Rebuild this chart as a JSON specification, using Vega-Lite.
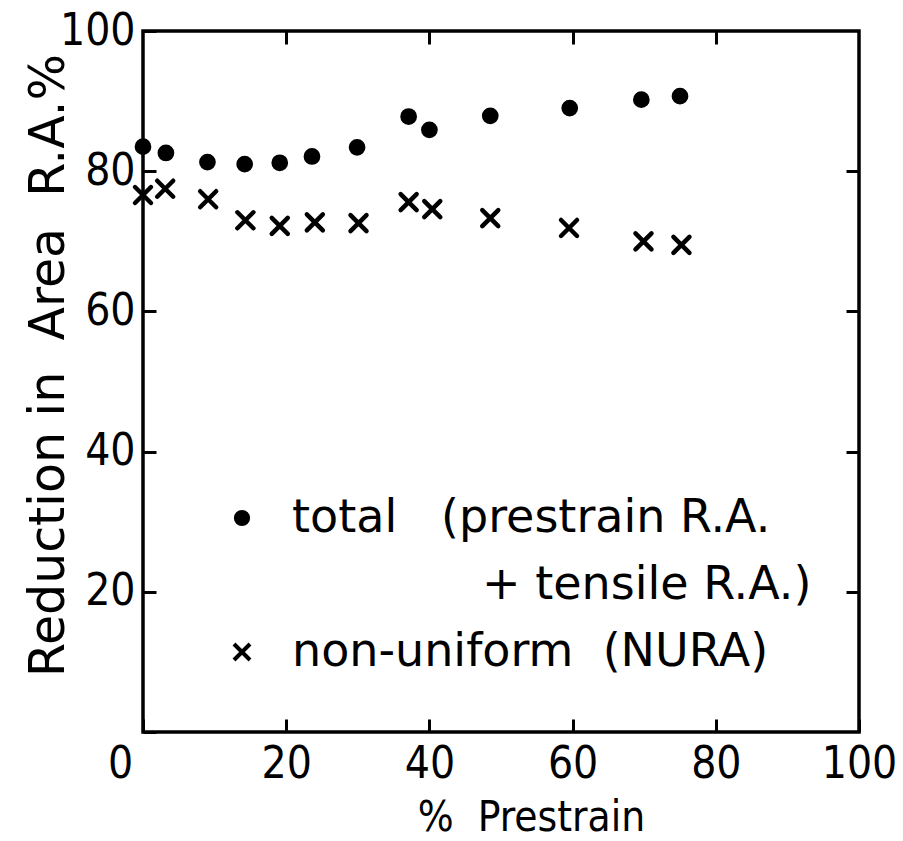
{
  "$schema": "https://vega.github.io/schema/vega-lite/v6.json",
  "autosize": {"type": "none"},
  "padding": {"left": 143, "top": 31, "right": 44, "bottom": 109},
  "width": 716,
  "height": 701,
  "background": "white",
  "config": {
    "view": {"stroke": "black", "strokeWidth": 3.5},
    "font": "DejaVu Sans Condensed, DejaVu Sans",
    "axis": {
      "grid": false,
      "domain": false,
      "tickColor": "black",
      "tickWidth": 3,
      "tickSize": -13,
      "labelColor": "black",
      "labelFont": "DejaVu Sans Condensed, DejaVu Sans",
      "labelFontSize": 44,
      "labelFlush": false,
      "labelOverlap": false,
      "titleColor": "black",
      "titleFont": "DejaVu Sans Condensed, DejaVu Sans",
      "titleFontSize": 46,
      "titleFontWeight": "normal"
    },
    "legend": {
      "labelFont": "DejaVu Sans",
      "labelFontSize": 46,
      "labelColor": "black",
      "labelLimit": 800
    }
  },
  "data": {
    "values": [
      {"prestrain": 0, "ra": 83.5, "series": "total"},
      {"prestrain": 3.2, "ra": 82.6, "series": "total"},
      {"prestrain": 9.0, "ra": 81.3, "series": "total"},
      {"prestrain": 14.2, "ra": 81.0, "series": "total"},
      {"prestrain": 19.1, "ra": 81.2, "series": "total"},
      {"prestrain": 23.6, "ra": 82.1, "series": "total"},
      {"prestrain": 29.9, "ra": 83.4, "series": "total"},
      {"prestrain": 37.1, "ra": 87.8, "series": "total"},
      {"prestrain": 40.0, "ra": 85.9, "series": "total"},
      {"prestrain": 48.5, "ra": 87.9, "series": "total"},
      {"prestrain": 59.6, "ra": 89.0, "series": "total"},
      {"prestrain": 69.6, "ra": 90.2, "series": "total"},
      {"prestrain": 75.0, "ra": 90.7, "series": "total"},
      {"prestrain": 0, "ra": 76.6, "series": "non-uniform"},
      {"prestrain": 3.1, "ra": 77.5, "series": "non-uniform"},
      {"prestrain": 9.1, "ra": 76.0, "series": "non-uniform"},
      {"prestrain": 14.3, "ra": 73.0, "series": "non-uniform"},
      {"prestrain": 19.1, "ra": 72.2, "series": "non-uniform"},
      {"prestrain": 24.0, "ra": 72.7, "series": "non-uniform"},
      {"prestrain": 30.1, "ra": 72.6, "series": "non-uniform"},
      {"prestrain": 37.1, "ra": 75.6, "series": "non-uniform"},
      {"prestrain": 40.4, "ra": 74.6, "series": "non-uniform"},
      {"prestrain": 48.5, "ra": 73.3, "series": "non-uniform"},
      {"prestrain": 59.5, "ra": 71.9, "series": "non-uniform"},
      {"prestrain": 69.9, "ra": 70.0, "series": "non-uniform"},
      {"prestrain": 75.2, "ra": 69.5, "series": "non-uniform"}
    ]
  },
  "layer": [
    {
      "mark": {"type": "point", "filled": true, "fill": "black", "stroke": "black", "strokeWidth": 4.5, "strokeCap": "round", "opacity": 1},
      "encoding": {
        "x": {
          "field": "prestrain", "type": "quantitative",
          "scale": {"domain": [0, 100], "nice": false, "zero": false},
          "axis": {
            "orient": "bottom",
            "values": [0, 20, 40, 60, 80, 100],
            "labelPadding": 23,
            "labelOffset": {"condition": {"test": "datum.value === 0", "value": -23}, "value": 0},
            "title": "%\u00a0\u00a0Prestrain",
            "titleFontSize": 42,
            "titleX": 388,
            "titleY": 98,
            "titleBaseline": "alphabetic",
            "titleAlign": "center"
          }
        },
        "y": {
          "field": "ra", "type": "quantitative",
          "scale": {"domain": [0, 100], "nice": false, "zero": false},
          "axis": {
            "orient": "left",
            "values": [0, 20, 40, 60, 80, 100],
            "labelPadding": 21,
            "labelExpr": "datum.value === 0 ? '' : datum.label",
            "title": "Reduction in\u00a0\u00a0Area\u00a0\u00a0R.A.%",
            "titleFont": "DejaVu Sans",
            "titleFontSize": 49,
            "titleAngle": -90,
            "titleX": -95,
            "titleY": 334,
            "titleAlign": "center",
            "titleBaseline": "middle"
          }
        },
        "shape": {
          "field": "series", "type": "nominal",
          "scale": {"domain": ["total", "tensile", "non-uniform"], "range": ["circle", "M0,0", "M-1,-1L1,1M-1,1L1,-1"]},
          "legend": {
            "orient": "none",
            "legendX": 76,
            "legendY": 464,
            "title": null,
            "padding": 0,
            "rowPadding": 21,
            "labelOffset": 27,
            "symbolFillColor": "black",
            "symbolStrokeColor": "black",
            "symbolStrokeWidth": 4,
            "labelExpr": "datum.value === 'total' ? 'total\u00a0\u00a0\u00a0(prestrain R.A.' : datum.value === 'tensile' ? '\u200b\u00a0\u00a0\u00a0\u00a0\u00a0\u00a0\u00a0\u00a0\u00a0\u00a0\u00a0\u00a0\u00a0+ tensile R.A.)' : 'non-uniform\u00a0\u00a0(NURA)'"
          }
        },
        "size": {
          "field": "series", "type": "nominal",
          "scale": {"type": "ordinal", "domain": ["total", "tensile", "non-uniform"], "range": [150, 0, 256]}
        }
      }
    },
    {
      "mark": {"type": "point", "opacity": 0},
      "encoding": {
        "x": {
          "field": "prestrain", "type": "quantitative",
          "scale": {"domain": [0, 100], "nice": false, "zero": false},
          "axis": {"orient": "top", "values": [20, 40, 60, 80], "labels": false, "title": null}
        },
        "y": {
          "field": "ra", "type": "quantitative",
          "scale": {"domain": [0, 100], "nice": false, "zero": false},
          "axis": {"orient": "right", "values": [20, 40, 60, 80], "labels": false, "title": null}
        }
      }
    }
  ],
  "resolve": {"axis": {"x": "independent", "y": "independent"}}
}
